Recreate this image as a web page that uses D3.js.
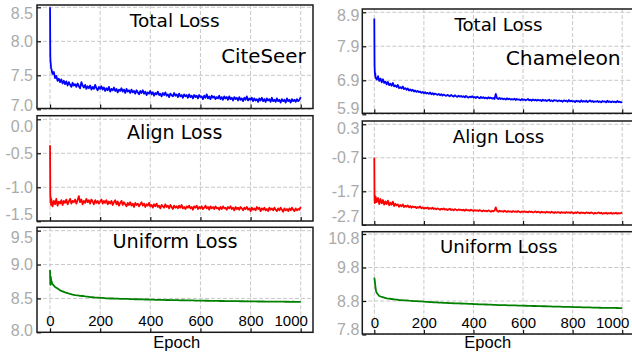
<!DOCTYPE html>
<html><head><meta charset="utf-8">
<script src="https://cdn.jsdelivr.net/npm/d3@7"></script>
<style>body{margin:0;background:#fff;overflow:hidden} svg{display:block}</style>
</head><body>
<script>
// ---------- DATA ----------
// epochs for the noisy curves (total / align), and for the smooth uniform curves
const epochsFine = [0,1,2,3,4].concat(d3.range(5,1001,5));
const epochsCoarse = [0,1,2,3,4,5,7].concat(d3.range(10,1001,10));
const xTicks = [0,200,400,600,800,1000];

const citeseerTotal = [8.50,7.78,7.70,7.66,7.62,
 7.60,7.52,7.55,7.46,7.49,7.42,7.45,7.40,7.44,7.38,
 7.42,7.37,7.41,7.35,7.40,7.36,7.33,7.39,7.35,7.37,
 7.33,7.38,7.34,7.31,7.40,7.35,7.32,7.36,7.30,7.34,
 7.31,7.35,7.29,7.33,7.30,7.36,7.31,7.28,7.33,7.30,
 7.34,7.29,7.32,7.27,7.31,7.28,7.33,7.26,7.30,7.28,
 7.32,7.27,7.30,7.25,7.29,7.27,7.31,7.26,7.29,7.24,
 7.30,7.26,7.28,7.24,7.29,7.25,7.27,7.23,7.28,7.25,
 7.22,7.27,7.24,7.28,7.23,7.26,7.21,7.25,7.23,7.27,
 7.22,7.25,7.20,7.24,7.22,7.26,7.21,7.23,7.19,7.24,
 7.21,7.25,7.20,7.22,7.18,7.23,7.21,7.19,7.24,7.20,
 7.22,7.18,7.23,7.19,7.21,7.17,7.22,7.19,7.21,7.17,
 7.22,7.18,7.20,7.16,7.21,7.18,7.20,7.16,7.21,7.18,
 7.19,7.15,7.20,7.17,7.22,7.16,7.19,7.15,7.20,7.17,
 7.19,7.15,7.18,7.16,7.20,7.15,7.18,7.14,7.19,7.16,
 7.18,7.14,7.19,7.15,7.17,7.13,7.18,7.15,7.17,7.13,
 7.18,7.14,7.16,7.12,7.17,7.14,7.19,7.13,7.16,7.14,
 7.17,7.12,7.16,7.13,7.15,7.11,7.16,7.13,7.17,7.12,
 7.15,7.11,7.16,7.13,7.15,7.11,7.17,7.12,7.14,7.11,
 7.16,7.12,7.14,7.10,7.15,7.12,7.14,7.10,7.16,7.12,
 7.14,7.10,7.15,7.12,7.14,7.11,7.15,7.12,7.14,7.18];
const citeseerAlign = [-0.38,-1.10,-1.22,-1.15,-1.26,
 -1.18,-1.28,-1.20,-1.25,-1.17,-1.27,-1.21,-1.24,-1.19,-1.26,
 -1.20,-1.23,-1.18,-1.25,-1.21,-1.17,-1.24,-1.20,-1.22,-1.18,
 -1.24,-1.19,-1.13,-1.22,-1.18,-1.25,-1.20,-1.23,-1.17,-1.22,
 -1.19,-1.24,-1.18,-1.21,-1.25,-1.19,-1.23,-1.20,-1.24,-1.21,
 -1.18,-1.24,-1.20,-1.23,-1.19,-1.25,-1.21,-1.24,-1.20,-1.26,
 -1.22,-1.19,-1.25,-1.21,-1.27,-1.23,-1.20,-1.26,-1.22,-1.25,
 -1.28,-1.23,-1.26,-1.22,-1.27,-1.24,-1.29,-1.23,-1.26,-1.24,
 -1.28,-1.25,-1.22,-1.27,-1.24,-1.29,-1.25,-1.27,-1.23,-1.28,
 -1.26,-1.30,-1.25,-1.28,-1.24,-1.29,-1.27,-1.31,-1.26,-1.28,
 -1.30,-1.25,-1.29,-1.27,-1.31,-1.26,-1.29,-1.32,-1.27,-1.30,
 -1.28,-1.31,-1.27,-1.30,-1.26,-1.31,-1.29,-1.32,-1.28,-1.30,
 -1.27,-1.31,-1.29,-1.33,-1.28,-1.30,-1.27,-1.32,-1.29,-1.31,
 -1.28,-1.32,-1.30,-1.27,-1.31,-1.29,-1.33,-1.28,-1.31,-1.29,
 -1.32,-1.28,-1.31,-1.30,-1.33,-1.29,-1.32,-1.28,-1.31,-1.30,
 -1.33,-1.29,-1.31,-1.28,-1.32,-1.30,-1.34,-1.29,-1.32,-1.30,
 -1.33,-1.29,-1.31,-1.34,-1.30,-1.32,-1.29,-1.33,-1.31,-1.35,
 -1.30,-1.33,-1.31,-1.34,-1.29,-1.32,-1.30,-1.35,-1.31,-1.33,
 -1.30,-1.34,-1.32,-1.35,-1.30,-1.33,-1.31,-1.34,-1.30,-1.33,
 -1.35,-1.31,-1.34,-1.30,-1.33,-1.36,-1.31,-1.34,-1.32,-1.35,
 -1.31,-1.34,-1.30,-1.33,-1.35,-1.31,-1.34,-1.32,-1.33,-1.29];
const citeseerUniform = [8.92,8.72,8.70,8.82,8.78,8.76,8.74,
 8.71,8.67,8.645,8.62,8.605,8.59,8.577,8.566,8.556,8.55,
 8.546,8.539,8.536,8.529,8.526,8.519,8.518,8.513,8.511,8.507,
 8.507,8.503,8.502,8.499,8.499,8.496,8.497,8.494,8.494,8.492,
 8.492,8.490,8.490,8.488,8.488,8.486,8.486,8.484,8.484,8.482,
 8.482,8.480,8.480,8.478,8.478,8.476,8.477,8.475,8.475,8.474,
 8.474,8.472,8.473,8.471,8.471,8.470,8.470,8.468,8.469,8.467,
 8.467,8.466,8.466,8.465,8.465,8.463,8.464,8.462,8.463,8.461,
 8.461,8.460,8.461,8.459,8.459,8.458,8.459,8.457,8.458,8.456,
 8.456,8.456,8.455,8.455,8.455,8.454,8.454,8.453,8.454,8.452,
 8.453,8.452,8.452,8.451,8.452,8.450,8.451,8.450,8.450,8.449];

const chameleonTotal = [8.72,7.35,7.15,7.05,7.10,
 6.98,6.92,7.02,6.88,6.95,6.84,6.93,6.82,6.86,6.78,
 6.85,6.76,6.80,6.74,6.82,6.72,6.75,6.70,6.76,6.67,
 6.70,6.66,6.72,6.64,6.67,6.62,6.66,6.60,6.63,6.59,
 6.62,6.57,6.60,6.56,6.59,6.55,6.57,6.53,6.56,6.52,
 6.55,6.51,6.53,6.50,6.54,6.49,6.52,6.48,6.51,6.49,
 6.47,6.50,6.46,6.49,6.45,6.48,6.46,6.44,6.47,6.45,
 6.43,6.47,6.44,6.42,6.46,6.43,6.41,6.45,6.42,6.44,
 6.41,6.43,6.40,6.44,6.41,6.39,6.42,6.40,6.43,6.39,
 6.41,6.38,6.42,6.39,6.37,6.41,6.38,6.40,6.37,6.39,
 6.36,6.40,6.37,6.39,6.36,6.38,6.35,6.50,6.37,6.35,
 6.38,6.35,6.37,6.34,6.36,6.33,6.37,6.34,6.36,6.33,
 6.35,6.33,6.36,6.32,6.35,6.33,6.34,6.31,6.35,6.32,
 6.34,6.31,6.33,6.35,6.31,6.33,6.30,6.34,6.31,6.33,
 6.30,6.33,6.31,6.32,6.29,6.33,6.30,6.32,6.29,6.31,
 6.33,6.29,6.31,6.28,6.32,6.30,6.31,6.28,6.31,6.29,
 6.30,6.27,6.31,6.29,6.30,6.27,6.32,6.28,6.30,6.28,
 6.29,6.26,6.30,6.28,6.29,6.26,6.31,6.27,6.29,6.27,
 6.30,6.26,6.28,6.31,6.27,6.29,6.26,6.28,6.27,6.29,
 6.26,6.28,6.25,6.29,6.27,6.28,6.25,6.30,6.26,6.28,
 6.25,6.28,6.26,6.27,6.25,6.29,6.26,6.27,6.25,6.26];
const chameleonAlign = [-0.70,-1.92,-2.05,-1.97,-2.03,
 -1.85,-2.02,-1.90,-2.08,-1.93,-2.06,-1.96,-2.10,-2.00,-2.08,
 -1.98,-2.12,-2.04,-2.10,-2.01,-2.14,-2.07,-2.12,-2.09,-2.16,
 -2.11,-2.15,-2.09,-2.17,-2.13,-2.16,-2.12,-2.18,-2.14,-2.19,
 -2.15,-2.18,-2.16,-2.20,-2.17,-2.19,-2.15,-2.21,-2.18,-2.22,
 -2.19,-2.21,-2.18,-2.23,-2.20,-2.22,-2.19,-2.23,-2.21,-2.24,
 -2.21,-2.23,-2.25,-2.22,-2.24,-2.21,-2.25,-2.23,-2.26,-2.24,
 -2.22,-2.26,-2.24,-2.27,-2.23,-2.25,-2.27,-2.24,-2.26,-2.25,
 -2.27,-2.25,-2.28,-2.24,-2.27,-2.26,-2.28,-2.25,-2.27,-2.29,
 -2.26,-2.28,-2.27,-2.29,-2.26,-2.28,-2.30,-2.27,-2.29,-2.28,
 -2.30,-2.27,-2.29,-2.31,-2.28,-2.30,-2.28,-2.18,-2.29,-2.31,
 -2.28,-2.30,-2.29,-2.31,-2.28,-2.30,-2.32,-2.29,-2.31,-2.30,
 -2.32,-2.29,-2.31,-2.30,-2.32,-2.29,-2.31,-2.33,-2.30,-2.32,
 -2.30,-2.32,-2.31,-2.33,-2.30,-2.32,-2.31,-2.33,-2.32,-2.30,
 -2.33,-2.31,-2.32,-2.34,-2.31,-2.33,-2.32,-2.34,-2.31,-2.33,
 -2.32,-2.34,-2.31,-2.33,-2.35,-2.32,-2.34,-2.32,-2.33,-2.35,
 -2.32,-2.34,-2.33,-2.35,-2.32,-2.34,-2.33,-2.35,-2.32,-2.34,
 -2.36,-2.33,-2.35,-2.32,-2.34,-2.36,-2.33,-2.35,-2.34,-2.36,
 -2.33,-2.35,-2.34,-2.36,-2.33,-2.35,-2.37,-2.34,-2.36,-2.35,
 -2.33,-2.36,-2.34,-2.37,-2.35,-2.36,-2.34,-2.37,-2.35,-2.36,
 -2.34,-2.37,-2.35,-2.36,-2.34,-2.37,-2.35,-2.36,-2.35,-2.34];
const chameleonUniform = [9.50,9.45,9.40,9.32,9.26,9.20,9.10,
 9.04,8.95,8.92,8.90,8.88,8.87,8.86,8.85,8.84,8.83,
 8.826,8.819,8.816,8.809,8.806,8.799,8.796,8.789,8.786,8.780,
 8.777,8.771,8.769,8.763,8.761,8.755,8.753,8.747,8.745,8.740,
 8.738,8.733,8.732,8.727,8.726,8.721,8.720,8.715,8.714,8.710,
 8.708,8.703,8.702,8.697,8.696,8.691,8.690,8.685,8.684,8.680,
 8.679,8.675,8.675,8.671,8.671,8.667,8.667,8.663,8.663,8.660,
 8.659,8.655,8.655,8.651,8.651,8.647,8.647,8.643,8.643,8.640,
 8.639,8.635,8.635,8.631,8.631,8.627,8.627,8.623,8.623,8.620,
 8.619,8.615,8.615,8.611,8.611,8.607,8.607,8.603,8.603,8.600,
 8.599,8.597,8.597,8.595,8.594,8.593,8.592,8.591,8.590,8.589];

const citeseerTotalTicks = [7.0,7.5,8.0,8.5];
const citeseerAlignTicks = [-1.5,-1.0,-0.5,0.0];
const citeseerUniformTicks = [8.0,8.5,9.0,9.5];
const chameleonTotalTicks = [5.9,6.9,7.9,8.9];
const chameleonAlignTicks = [-2.7,-1.7,-0.7,0.3];
const chameleonUniformTicks = [7.8,8.8,9.8,10.8];

// ---------- LAYOUT ----------
const W = 632, H = 358;
const svg = d3.select("body").append("svg").attr("width", W).attr("height", H);
const tickFont = "'Liberation Sans', Arial, sans-serif";
const titleFont = "'DejaVu Sans', sans-serif";

const cols = [
  {x0: 37, x1: 313, xd: [-52, 1049], dataset: "CiteSeer", dsx: 263.4, dsy: 62.7, dss: 19.8, epx: 176.7, lblShift: -10},
  {x0: 362.3, x1: 636, xd: [-48.4, 1055.6], dataset: "Chameleon", dsx: 563.2, dsy: 65, dss: 20.3, epx: 487.7, lblShift: -10}
];

const panels = [
  {col: 0, ep: epochsFine, data: citeseerTotal, ticks: citeseerTotalTicks, color: "#0000ff", top: 5, bot: 108.5, yd: [7.012, 8.534], title: "Total Loss", tx: 174.7, ty: 26.7, ts: 18.5, shift: [-4, 6], bottom: false},
  {col: 0, ep: epochsFine, data: citeseerAlign, ticks: citeseerAlignTicks, color: "#ff0000", top: 115.7, bot: 221, yd: [-1.496, 0.053], title: "Align Loss", tx: 174.7, ty: 139.3, ts: 19, shift: [-7, 7], bottom: false},
  {col: 0, ep: epochsCoarse, data: citeseerUniform, ticks: citeseerUniformTicks, color: "#008000", top: 227.3, bot: 332.3, yd: [8.0, 9.55], title: "Uniform Loss", tx: 175, ty: 248.3, ts: 19.3, shift: [-2, 7], bottom: true},
  {col: 1, ep: epochsFine, data: chameleonTotal, ticks: chameleonTotalTicks, color: "#0000ff", top: 9, bot: 113.3, yd: [5.929, 8.997], title: "Total Loss", tx: 498.5, ty: 30.7, ts: 18.2, shift: [-6, 3], bottom: false},
  {col: 1, ep: epochsFine, data: chameleonAlign, ticks: chameleonAlignTicks, color: "#ff0000", top: 121, bot: 225, yd: [-2.706, 0.398], title: "Align Loss", tx: 498.5, ty: 142.7, ts: 18.2, shift: [-8, 4], bottom: false},
  {col: 1, ep: epochsCoarse, data: chameleonUniform, ticks: chameleonUniformTicks, color: "#008000", top: 231.7, bot: 334, yd: [7.815, 10.869], title: "Uniform Loss", tx: 498.8, ty: 253.3, ts: 18.1, shift: [-5, 4], bottom: true}
];

const fmt = d => d.toFixed(1);

panels.forEach((p, i) => {
  const c = cols[p.col];
  const x = d3.scaleLinear().domain(c.xd).range([c.x0, c.x1]);
  const y = d3.scaleLinear().domain(p.yd).range([p.bot, p.top]);
  const g = svg.append("g");

  const clipId = "clip" + i;
  svg.append("clipPath").attr("id", clipId).append("rect")
    .attr("x", c.x0).attr("y", p.top).attr("width", c.x1 - c.x0).attr("height", p.bot - p.top);

  // grid
  g.append("g").selectAll("line").data(xTicks).join("line")
    .attr("x1", d => x(d)).attr("x2", d => x(d)).attr("y1", p.top).attr("y2", p.bot)
    .attr("stroke", "#c8c8c8").attr("stroke-width", 1).attr("stroke-dasharray", "4,2");
  g.append("g").selectAll("line").data(p.ticks).join("line")
    .attr("x1", c.x0).attr("x2", c.x1).attr("y1", d => y(d)).attr("y2", d => y(d))
    .attr("stroke", "#c8c8c8").attr("stroke-width", 1).attr("stroke-dasharray", "4,2");

  // title
  g.append("text").attr("x", p.tx).attr("y", p.ty).attr("text-anchor", "middle")
    .attr("font-family", titleFont).attr("font-size", p.ts).attr("fill", "#000").text(p.title);

  // line
  const n = Math.min(p.ep.length, p.data.length);
  const pts = d3.range(n).map(k => [p.ep[k], p.data[k]]);
  g.append("path").datum(pts)
    .attr("clip-path", `url(#${clipId})`)
    .attr("d", d3.line().x(d => x(d[0])).y(d => y(d[1])))
    .attr("fill", "none").attr("stroke", p.color)
    .attr("stroke-width", p.ep === epochsFine ? 1.8 : 1.8).attr("stroke-linejoin", "round");

  // x axis (inward ticks, labels inside bottom panel)
  const xa = g.append("g").attr("transform", `translate(0,${p.bot})`)
    .call(d3.axisBottom(x).tickValues(xTicks).tickSizeInner(-4).tickSizeOuter(0).tickPadding(-17)
      .tickFormat(p.bottom ? d3.format("d") : () => ""));
  xa.select(".domain").remove();
  xa.selectAll("line").attr("stroke", "#111").attr("stroke-width", 1.2);
  xa.selectAll("text").attr("font-family", tickFont).attr("font-size", 15).attr("fill", "#000")
    .attr("dx", d => d === 1000 ? c.lblShift : 0);

  // y axis
  const ya = g.append("g").attr("transform", `translate(${c.x0},0)`)
    .call(d3.axisLeft(y).tickValues(p.ticks).tickSizeInner(-4).tickSizeOuter(0).tickPadding(p.col === 0 ? 4 : 3).tickFormat(fmt));
  ya.select(".domain").remove();
  ya.selectAll("line").attr("stroke", "#111").attr("stroke-width", 1.2);
  const lo = d3.min(p.ticks), hi = d3.max(p.ticks);
  ya.selectAll("text").attr("font-family", tickFont).attr("font-size", 16).attr("fill", "#aaaaaa")
    .attr("transform", d => d === lo ? `translate(0,${p.shift[0]})` : d === hi ? `translate(0,${p.shift[1]})` : null);

  // frame
  g.append("rect").attr("x", c.x0).attr("y", p.top).attr("width", c.x1 - c.x0).attr("height", p.bot - p.top)
    .attr("fill", "none").attr("stroke", "#1a1a1a").attr("stroke-width", 1.5);

  if (p.bottom) {
    svg.append("text").attr("x", c.epx).attr("y", 347.7).attr("text-anchor", "middle")
      .attr("font-family", tickFont).attr("font-size", 16.5).attr("fill", "#000").text("Epoch");
  }
});

// dataset names
cols.forEach(c => {
  svg.append("text").attr("x", c.dsx).attr("y", c.dsy).attr("text-anchor", "middle")
    .attr("font-family", titleFont).attr("font-size", c.dss).attr("fill", "#000").text(c.dataset);
});
</script>
</body></html>
